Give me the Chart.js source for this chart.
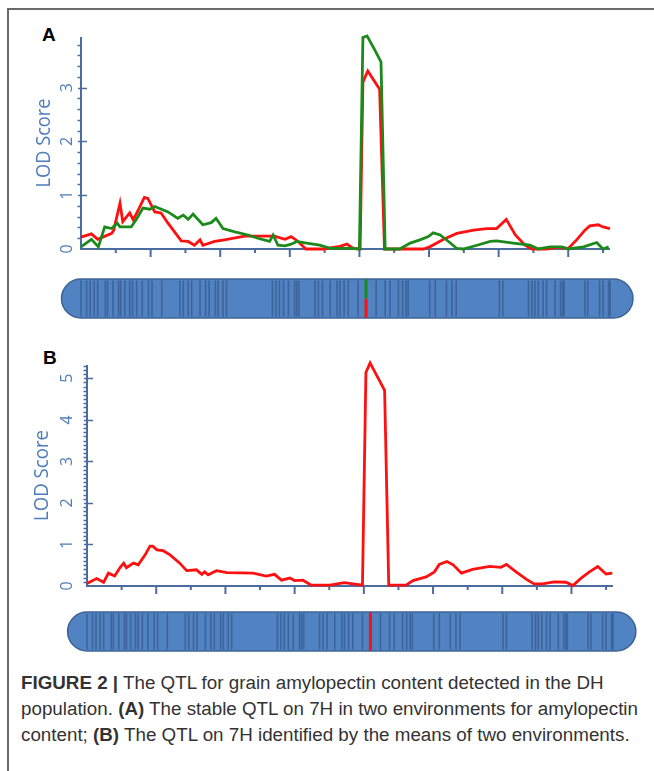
<!DOCTYPE html>
<html>
<head>
<meta charset="utf-8">
<script src="https://cdn.jsdelivr.net/npm/chart.js@4.4.1/dist/chart.umd.min.js"></script>
<style>
body { margin: 0; width: 654px; height: 771px; background: #fff; position: relative; overflow: hidden; font-family: "Liberation Sans", Arial, sans-serif; }
.frame { position: absolute; left: 7px; top: 8px; width: 660px; height: 780px; border-left: 2px solid #6a6a6a; border-top: 2px solid #6a6a6a; }
canvas { position: absolute; left: 0; }
.panel { position: absolute; font-weight: bold; font-size: 19px; color: #000; }
#caption { position: absolute; left: 21px; top: 670px; font-size: 18.8px; line-height: 26px; color: #333; white-space: nowrap; }
</style>
</head>
<body>
<div class="frame"></div>
<div class="panel" style="left:42px;top:24px">A</div>
<div class="panel" style="left:43px;top:347px">B</div>
<canvas id="chartA" width="654" height="270" style="top:0"></canvas>
<canvas id="barA" width="654" height="54" style="top:272px"></canvas>
<canvas id="chartB" width="654" height="280" style="top:330px"></canvas>
<canvas id="barB" width="654" height="54" style="top:605px"></canvas>
<div id="caption"><b>FIGURE 2 |</b> The QTL for grain amylopectin content detected in the DH<br>population. <b>(A)</b> The stable QTL on 7H in two environments for amylopectin<br>content; <b>(B)</b> The QTL on 7H identified by the means of two environments.</div>

<script>
// panel A, environment 1 (red) - position along 7H and LOD
const envRedPos = [0, 1.5, 2.4, 4.4, 4.7, 5.6, 6.0, 7.0, 7.5, 8.2, 9.1, 9.6, 10.6, 11.5, 12.5, 14.4, 15.4, 16.3, 17.1, 17.5, 19.2, 20.6, 23.5, 26.4, 27.8, 29.3, 30.2, 31.2, 32.3, 35.0, 35.8, 37.2, 38.2, 39.1, 40.1, 40.5, 41.2, 42.9, 43.6, 49.2, 50.1, 52.1, 54.0, 56.4, 58.3, 59.7, 61.1, 62.4, 63.8, 64.8, 66.9, 68.3, 70.0, 71.2, 72.4, 73.1, 74.3, 75.0, 76.0]
const envRedLod = [0.22, 0.28, 0.18, 0.29, 0.35, 0.85, 0.51, 0.67, 0.54, 0.72, 0.96, 0.94, 0.69, 0.67, 0.48, 0.15, 0.14, 0.07, 0.17, 0.07, 0.14, 0.17, 0.24, 0.24, 0.24, 0.18, 0.23, 0.14, 0.0, 0.0, 0.02, 0.05, 0.09, 0.01, 0.0, 3.1, 3.31, 2.97, 0.0, 0.0, 0.04, 0.18, 0.29, 0.35, 0.38, 0.38, 0.55, 0.26, 0.07, 0.0, 0.0, 0.03, 0.01, 0.17, 0.35, 0.43, 0.45, 0.41, 0.38]

// panel A, environment 2 (green)
const envGreenPos = [0, 1.5, 2.5, 3.4, 4.4, 5.2, 5.6, 7.2, 7.9, 8.9, 9.9, 10.6, 12.5, 13.9, 14.7, 15.4, 16.1, 17.5, 18.7, 19.4, 20.4, 22.1, 24.0, 25.4, 27.1, 27.6, 28.3, 29.3, 30.2, 31.0, 32.4, 34.3, 35.8, 38.6, 40.0, 40.5, 41.1, 42.2, 43.1, 43.7, 45.8, 47.3, 48.7, 49.9, 50.6, 51.6, 52.8, 54.0, 54.9, 56.9, 58.8, 59.7, 62.1, 64.5, 65.7, 67.4, 69.1, 70.0, 72.2, 74.1, 75.0, 75.8]
const envGreenLod = [0.04, 0.18, 0.04, 0.41, 0.38, 0.48, 0.41, 0.41, 0.54, 0.76, 0.74, 0.79, 0.69, 0.57, 0.63, 0.55, 0.65, 0.45, 0.49, 0.57, 0.38, 0.32, 0.26, 0.20, 0.14, 0.26, 0.07, 0.06, 0.09, 0.14, 0.11, 0.07, 0.01, 0.01, 0.0, 3.93, 3.96, 3.70, 3.48, 0.0, 0.0, 0.11, 0.17, 0.23, 0.30, 0.26, 0.14, 0.01, 0.0, 0.07, 0.14, 0.15, 0.11, 0.07, 0.0, 0.04, 0.04, 0.0, 0.04, 0.12, 0.0, 0.04]

// panel B, mean of two environments
const meanPos = [0, 1.4, 2.4, 3.1, 4.0, 4.8, 5.3, 5.7, 6.7, 7.4, 8.4, 9.1, 9.5, 10.1, 11.0, 12.0, 13.4, 14.4, 15.8, 16.6, 17.0, 17.5, 18.7, 20.2, 24.0, 25.9, 27.1, 28.1, 29.3, 30.0, 31.2, 32.4, 35.1, 37.2, 38.4, 39.8, 40.3, 40.9, 43.0, 43.6, 46.1, 47.1, 49.0, 50.2, 50.9, 52.0, 52.9, 54.1, 55.7, 58.2, 59.8, 60.6, 62.0, 63.5, 64.6, 65.8, 67.5, 69.2, 70.2, 71.4, 72.6, 73.8, 75.0, 75.9]
const meanLod = [0.06, 0.18, 0.09, 0.31, 0.24, 0.45, 0.55, 0.44, 0.55, 0.51, 0.75, 0.96, 0.96, 0.87, 0.85, 0.75, 0.55, 0.37, 0.39, 0.28, 0.34, 0.27, 0.37, 0.32, 0.31, 0.24, 0.28, 0.14, 0.19, 0.13, 0.14, 0.02, 0.02, 0.08, 0.05, 0.02, 5.14, 5.37, 4.71, 0.02, 0.02, 0.13, 0.22, 0.34, 0.52, 0.59, 0.51, 0.31, 0.40, 0.47, 0.45, 0.52, 0.34, 0.16, 0.05, 0.05, 0.10, 0.09, 0.01, 0.19, 0.34, 0.47, 0.29, 0.31]

// marker positions on the 7H linkage map
const markers = [0, 0.8, 1.3, 1.9, 2.4, 3.5, 3.8, 4.6, 5.4, 5.7, 6.3, 7.0, 7.4, 8.0, 8.8, 9.7, 10.2, 11.6, 14.2, 14.7, 15.4, 15.9, 17.1, 17.9, 18.4, 19.3, 19.7, 20.4, 20.9, 27.5, 28.0, 28.5, 29.1, 29.8, 30.7, 31.0, 31.3, 33.6, 34.1, 34.7, 35.8, 36.8, 37.2, 37.8, 38.4, 39.8, 42.4, 43.7, 44.4, 45.6, 46.2, 46.7, 47.0, 50.1, 50.9, 52.5, 53.3, 53.9, 60.1, 60.6, 64.3, 64.8, 65.2, 65.7, 66.4, 66.9, 68.1, 68.9, 69.2, 69.4, 72.4, 72.8, 74.5, 75.0, 75.8, 76.0, 76.2]
const qtlPos = 40.95
const chromStart = -2.8
const chromEnd = 79.3
const mapLength = 76

const axisBlue = "#4b6c9e"
const labelBlue = "#4f7dbb"

function pts(xs, ys) {
  let out = []
  for (let i = 0; i < xs.length; i++) {
    out.push({x: xs[i], y: ys[i]})
  }
  return out
}

// axis lines, ticks and rotated labels drawn from the chart scales
const lodAxes = {
  id: 'lodAxes',
  beforeDatasetsDraw(chart, args, o) {
    const ctx = chart.ctx
    const area = chart.chartArea
    const x = chart.scales.x, y = chart.scales.y
    const x0 = area.left, y0 = y.getPixelForValue(0)
    ctx.save()
    ctx.strokeStyle = axisBlue
    ctx.lineWidth = 2
    ctx.beginPath()
    ctx.moveTo(x0, area.top)
    ctx.lineTo(x0, y0)
    ctx.lineTo(area.right, y0)
    ctx.stroke()
    // y ticks
    ctx.lineWidth = 1.5
    for (let v = o.yMinor; v <= y.max + 1e-9; v += o.yMinor) {
      const py = Math.round(y.getPixelForValue(v)) + 0.5
      const major = Math.abs(v - Math.round(v)) < 1e-6
      ctx.beginPath()
      if (major) { ctx.moveTo(x0 - 3, py); ctx.lineTo(x0 + 6, py) }
      else { ctx.moveTo(x0 - 3.5, py); ctx.lineTo(x0, py) }
      ctx.stroke()
    }
    // x ticks
    ctx.lineWidth = 2
    for (let v = 5; v <= x.max; v += 5) {
      const px = x.getPixelForValue(v)
      ctx.beginPath()
      ctx.moveTo(px, y0)
      ctx.lineTo(px, y0 + (v % 10 === 0 ? 8 : 4))
      ctx.stroke()
    }
    // y labels (rotated)
    ctx.fillStyle = labelBlue
    ctx.font = '16px "Open Sans"'
    ctx.textAlign = 'center'
    ctx.textBaseline = 'middle'
    for (let v = 0; v <= y.max; v++) {
      ctx.save()
      ctx.translate(x0 - o.labelOffset, y.getPixelForValue(v))
      ctx.rotate(-Math.PI / 2)
      ctx.fillText(String(v), 0, 0)
      ctx.restore()
    }
    // axis title
    ctx.font = '20px "Open Sans"'
    const w = ctx.measureText(o.title).width
    ctx.save()
    ctx.translate(x0 - o.titleOffset, (area.top + y0) / 2)
    ctx.rotate(-Math.PI / 2)
    ctx.scale(o.titleWidth / w, 1)
    ctx.fillText(o.title, 0, 0)
    ctx.restore()
    ctx.restore()
  }
}

// capsule outline of the chromosome
const chromBody = {
  id: 'chromBody',
  beforeDatasetsDraw(chart) {
    const ctx = chart.ctx
    const x = chart.scales.x
    const l = x.getPixelForValue(chromStart), r = x.getPixelForValue(chromEnd)
    const t = chart.chartArea.top, b = chart.chartArea.bottom, rad = (b - t) / 2
    ctx.save()
    ctx.beginPath()
    ctx.moveTo(l + rad, t)
    ctx.lineTo(r - rad, t)
    ctx.arc(r - rad, t + rad, rad, -Math.PI / 2, Math.PI / 2)
    ctx.lineTo(l + rad, b)
    ctx.arc(l + rad, t + rad, rad, Math.PI / 2, Math.PI * 1.5)
    ctx.closePath()
    ctx.fillStyle = "#5182c2"
    ctx.fill()
    ctx.lineWidth = 1.5
    ctx.strokeStyle = "#3e6496"
    ctx.stroke()
    ctx.restore()
  }
}

function lodChart(id, datasets, ymax, pad, opts) {
  return new Chart(document.getElementById(id), {
    type: 'line',
    data: { datasets: datasets },
    options: {
      responsive: false,
      animation: false,
      events: [],
      layout: { padding: pad, autoPadding: false },
      scales: {
        x: { type: 'linear', min: 0, max: mapLength, display: false },
        y: { min: 0, max: ymax, display: false }
      },
      plugins: { legend: { display: false }, tooltip: { enabled: false }, lodAxes: opts }
    },
    plugins: [lodAxes]
  })
}

function lodLine(data, color) {
  return { data: data, borderColor: color, borderWidth: 2.8, pointRadius: 0, tension: 0, fill: false, clip: false }
}

lodChart('chartA', [
  lodLine(pts(envGreenPos, envGreenLod), "#1b8a1b"),
  lodLine(pts(envRedPos, envRedLod), "#ff1010")
], 3.94, {left: 81, right: 44, top: 37, bottom: 21},
  {yMinor: 0.2, labelOffset: 14, titleOffset: 36.5, titleWidth: 89, title: 'LOD Score'})

lodChart('chartB', [
  lodLine(pts(meanPos, meanLod), "#ff1010")
], 5.32, {left: 87, right: 41, top: 35, bottom: 24},
  {yMinor: 0.1, labelOffset: 20, titleOffset: 44.5, titleWidth: 91, title: 'LOD Score'})

function chromChart(id, pad, qtlSets) {
  const sets = [{
    data: markers.map(m => ({x: m, y: 0})),
    pointStyle: 'line', pointRotation: 90, pointRadius: 18,
    pointBorderWidth: 1.6, pointBorderColor: 'rgba(40,70,120,0.5)', clip: false
  }]
  return new Chart(document.getElementById(id), {
    type: 'scatter',
    data: { datasets: qtlSets.concat(sets) },
    options: {
      responsive: false,
      animation: false,
      events: [],
      layout: { padding: pad, autoPadding: false },
      scales: {
        x: { type: 'linear', min: 0, max: mapLength, display: false },
        y: { min: -1, max: 1, display: false }
      },
      plugins: { legend: { display: false }, tooltip: { enabled: false } }
    },
    plugins: [chromBody]
  })
}

function qtlMark(y, r, color) {
  return { data: [{x: qtlPos, y: y}], pointStyle: 'line', pointRotation: 90, pointRadius: r,
    pointBorderWidth: 3, pointBorderColor: color, clip: false }
}

chromChart('barA', {left: 81, right: 44, top: 7, bottom: 8}, [
  qtlMark(0.5, 9.5, "#1b8a1b"),
  qtlMark(-0.5, 9.5, "#ff1010")
])
chromChart('barB', {left: 87, right: 41, top: 7, bottom: 8}, [
  qtlMark(0, 19, "#ff1010")
])
</script>
</body>
</html>
